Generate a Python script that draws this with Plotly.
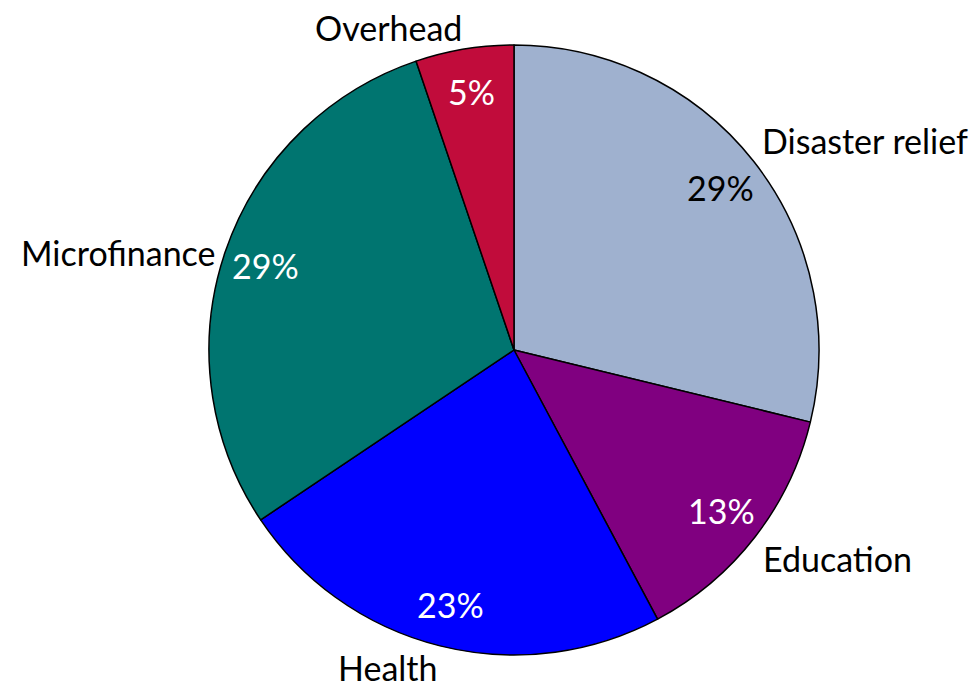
import math
import plotly.graph_objects as go

categories = ["Disaster relief", "Education", "Health", "Microfinance", "Overhead"]
values = [28.8, 13.4, 23.4, 29.2, 5.2]
colors = ["#9FB1CF", "#800080", "#0000FF", "#007570", "#C10C3B"]
pct_font_colors = ["black", "white", "white", "white", "white"]

W, H = 975, 692
CX, CY, R = 514, 350, 305
FONT = "Lato"
FS = 34

fig = go.Figure()
fig.add_trace(go.Pie(
    labels=categories, values=values, sort=False, direction="clockwise", rotation=0,
    marker=dict(colors=colors, line=dict(color="black", width=1.5)),
    textinfo="none", hoverinfo="label+percent", showlegend=False,
    domain=dict(x=[(CX - R) / W, (CX + R) / W], y=[1 - (CY + R) / H, 1 - (CY - R) / H]),
))

total = sum(values)
cum = 0.0
annotations = []
for cat, v, fc in zip(categories, values, pct_font_colors):
    mid = (cum + v / 2) / total * 2 * math.pi
    cum += v
    s, c = math.sin(mid), math.cos(mid)
    # percentage inside near the rim
    px, py = CX + 0.86 * R * s, CY - 0.86 * R * c
    annotations.append(dict(
        x=px / W, y=1 - py / H, xref="paper", yref="paper", showarrow=False,
        text=f"{round(100 * v / total)}%", font=dict(family=FONT, size=FS, color=fc),
        xanchor="center", yanchor="middle"))
    # category label outside
    lx, ly = CX + 1.03 * R * s, CY - 1.0 * R * c
    xa = "left" if s > 0.1 else ("right" if s < -0.1 else "center")
    ya = "bottom" if c > 0.5 else ("top" if c < -0.5 else "middle")
    annotations.append(dict(
        x=lx / W, y=1 - ly / H, xref="paper", yref="paper", showarrow=False,
        text=cat, font=dict(family=FONT, size=FS, color="black"),
        xanchor=xa, yanchor=ya, borderpad=0))

fig.update_layout(
    width=W, height=H, margin=dict(l=0, r=0, t=0, b=0),
    paper_bgcolor="white", plot_bgcolor="white",
    annotations=annotations,
)
fig.write_html("out.html", config={"displayModeBar": False},
               post_script="document.body.style.margin='0';document.body.style.overflow='hidden';")
